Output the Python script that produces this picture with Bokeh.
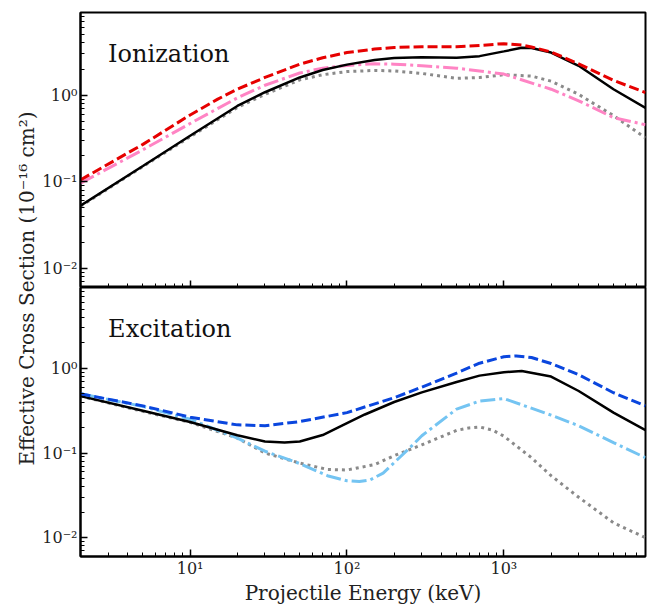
import math
from bokeh.plotting import figure
from bokeh.models import Range1d, FixedTicker, CustomJSTickFormatter, Label, LogAxis
from bokeh.layouts import row, column
from bokeh.core.properties import value
from bokeh.embed import file_html
from bokeh.resources import INLINE

FONT = "DejaVu Serif"

# ---------------- data ----------------
# Ionization panel
ion_red_E = [2, 5, 10, 15, 20, 30, 50, 70, 100, 150, 200, 300, 500, 700, 1000, 1300, 1500, 2000, 3000, 5000, 8000]
ion_red_v = [0.105, 0.27, 0.59, 0.9, 1.17, 1.6, 2.28, 2.7, 3.1, 3.4, 3.55, 3.62, 3.63, 3.75, 3.93, 3.8, 3.6, 3.15, 2.3, 1.48, 1.07]

ion_black_E = [2, 5, 10, 20, 30, 50, 70, 100, 150, 200, 300, 500, 700, 1000, 1300, 1500, 2000, 3000, 5000, 8000]
ion_black_v = [0.053, 0.152, 0.34, 0.75, 1.08, 1.6, 1.95, 2.25, 2.55, 2.68, 2.74, 2.7, 2.82, 3.2, 3.52, 3.5, 3.1, 2.18, 1.17, 0.71]

ion_pink_E = [2, 5, 10, 20, 30, 50, 70, 100, 150, 200, 300, 500, 700, 1000, 2000, 3000, 5000, 8000]
ion_pink_v = [0.096, 0.234, 0.47, 0.93, 1.3, 1.8, 2.05, 2.2, 2.3, 2.28, 2.18, 2.05, 1.9, 1.75, 1.17, 0.86, 0.55, 0.455]

ion_grey_E = [2, 5, 10, 20, 30, 50, 70, 100, 150, 200, 300, 500, 700, 1000, 1500, 2000, 3000, 5000, 8000]
ion_grey_v = [0.052, 0.15, 0.33, 0.72, 1.02, 1.5, 1.72, 1.87, 1.93, 1.9, 1.78, 1.56, 1.6, 1.72, 1.66, 1.45, 1.02, 0.58, 0.32]

# Excitation panel
exc_blue_E = [2, 5, 10, 20, 30, 50, 100, 200, 300, 500, 700, 1000, 1200, 1500, 2000, 3000, 5000, 8000]
exc_blue_v = [0.50, 0.36, 0.265, 0.215, 0.21, 0.235, 0.30, 0.45, 0.60, 0.88, 1.15, 1.37, 1.40, 1.34, 1.14, 0.84, 0.515, 0.36]

exc_black_E = [2, 5, 10, 20, 30, 40, 50, 70, 100, 130, 200, 300, 500, 700, 1000, 1300, 2000, 3000, 5000, 8000]
exc_black_v = [0.47, 0.315, 0.232, 0.162, 0.137, 0.133, 0.137, 0.163, 0.225, 0.285, 0.40, 0.52, 0.69, 0.82, 0.90, 0.93, 0.80, 0.54, 0.30, 0.186]

exc_lblue_E = [2, 5, 10, 20, 30, 50, 75, 100, 120, 140, 170, 200, 250, 300, 500, 700, 1000, 2000, 3000, 5000, 8000]
exc_lblue_v = [0.50, 0.355, 0.25, 0.15, 0.105, 0.075, 0.054, 0.047, 0.046, 0.048, 0.058, 0.077, 0.114, 0.16, 0.33, 0.41, 0.44, 0.28, 0.21, 0.133, 0.088]

exc_grey_E = [2, 5, 10, 20, 30, 50, 75, 100, 150, 200, 300, 500, 600, 700, 850, 1000, 1500, 2000, 3000, 5000, 8000]
exc_grey_v = [0.47, 0.31, 0.23, 0.15, 0.10, 0.076, 0.064, 0.063, 0.073, 0.093, 0.125, 0.185, 0.198, 0.203, 0.186, 0.158, 0.088, 0.054, 0.030, 0.015, 0.010]

x_major = [10, 100, 1000]
y_major = [0.01, 0.1, 1]
x_lim = (2, 8000)
y_lim = (0.006, 9)

Y_LABEL = "Effective Cross Section (10\u207b\u00b9\u2076 cm\u00b2)"
X_LABEL = "Projectile Energy (keV)"

# ---------------- helpers ----------------
def minor_list(lo_exp, hi_exp):
    out = []
    for e in range(lo_exp, hi_exp + 1):
        for m in range(2, 10):
            out.append(m * 10.0 ** e)
    return out

sup_code = """
const sup = {'-':'\u207b','0':'\u2070','1':'\u00b9','2':'\u00b2','3':'\u00b3','4':'\u2074',
             '5':'\u2075','6':'\u2076','7':'\u2077','8':'\u2078','9':'\u2079'};
const e = Math.round(Math.log10(tick));
return '10' + String(e).split('').map(c => sup[c]).join('');
"""

def style_axis(ax):
    ax.axis_line_width = 2
    ax.major_tick_in = 7
    ax.major_tick_out = 0
    ax.minor_tick_in = 4
    ax.minor_tick_out = 0
    ax.major_tick_line_width = 1.5
    ax.minor_tick_line_width = 1
    ax.major_label_text_font = FONT
    ax.major_label_text_font_size = "16px"
    ax.major_label_text_color = "#222222"
    ax.axis_label_text_font = FONT
    ax.axis_label_text_font_style = "normal"
    ax.axis_label_text_font_size = "20px"
    ax.axis_label_text_color = "#222222"
    ax.formatter = CustomJSTickFormatter(code=sup_code)

def make_panel(height, top_border, bottom_border, show_x):
    p = figure(width=612, height=height, x_axis_type="log", y_axis_type="log",
               x_range=Range1d(*x_lim), y_range=Range1d(*y_lim),
               x_axis_location="below" if show_x else None,
               toolbar_location=None, output_backend="svg", title=None,
               min_border_left=42, min_border_right=5,
               min_border_top=top_border, min_border_bottom=bottom_border)
    p.grid.visible = False
    p.outline_line_color = "black"
    p.outline_line_width = 2
    p.outline_line_alpha = 1
    p.background_fill_color = "white"
    p.border_fill_color = "white"
    yax = p.yaxis[0]
    style_axis(yax)
    yax.ticker = FixedTicker(ticks=y_major, minor_ticks=minor_list(-3, 0))
    yax.major_label_standoff = 3
    if show_x:
        xax = p.xaxis[0]
        style_axis(xax)
        xax.ticker = FixedTicker(ticks=x_major, minor_ticks=minor_list(0, 3))
        xax.major_label_standoff = 2
        xax.axis_label_standoff = 0
        xax.axis_label = X_LABEL
    else:
        # tick marks only (no labels): minor ticks and decade ticks
        minors = LogAxis(ticker=FixedTicker(ticks=[], minor_ticks=minor_list(0, 3)))
        style_axis(minors)
        minors.major_label_text_font_size = "0px"
        minors.major_label_standoff = 0
        p.add_layout(minors, "below")
        majors = LogAxis(ticker=FixedTicker(ticks=[], minor_ticks=x_major))
        style_axis(majors)
        majors.minor_tick_in = 7
        majors.minor_tick_line_width = 1.5
        majors.major_label_text_font_size = "0px"
        majors.major_label_standoff = 0
        p.add_layout(majors, "below")
    return p

# ---------------- top panel ----------------
top = make_panel(287, 12, 0, False)
top.line(ion_grey_E, ion_grey_v, line_color="#8a8a8a", line_width=3, line_dash="3 4")
top.line(ion_pink_E, ion_pink_v, line_color="#ff84c4", line_width=3, line_dash="15 4 3 4")
top.line(ion_black_E, ion_black_v, line_color="black", line_width=2.5)
top.line(ion_red_E, ion_red_v, line_color="#e60000", line_width=3, line_dash="10 4")
top.add_layout(Label(x=3.0, y=2.95, text="Ionization", text_font=FONT,
                     text_font_size="24px", text_baseline="alphabetic", text_color="#111111"))

# ---------------- bottom panel ----------------
bot = make_panel(320, 0, 44, True)
bot.line(exc_grey_E, exc_grey_v, line_color="#8a8a8a", line_width=3, line_dash="3 4")
bot.line(exc_lblue_E, exc_lblue_v, line_color="#74c4f2", line_width=3, line_dash="15 4 3 4")
bot.line(exc_black_E, exc_black_v, line_color="black", line_width=2.5)
bot.line(exc_blue_E, exc_blue_v, line_color="#0a46de", line_width=3, line_dash="10 4")
bot.add_layout(Label(x=3.0, y=2.95, text="Excitation", text_font=FONT,
                     text_font_size="24px", text_baseline="alphabetic", text_color="#111111"))

# ---------------- shared y label ----------------
LAB_H = 607
lab = figure(width=38, height=LAB_H, x_range=Range1d(0, 38), y_range=Range1d(0, LAB_H),
             x_axis_location=None, y_axis_location=None, title=None,
             toolbar_location=None, output_backend="svg",
             min_border=0, min_border_left=0, min_border_right=0,
             min_border_top=0, min_border_bottom=0)
lab.grid.visible = False
lab.outline_line_color = None
lab.text(x=[26], y=[LAB_H - 288], text=[Y_LABEL],
         angle=math.pi / 2, text_align="center", text_baseline="middle",
         text_font=value(FONT), text_font_size="20px", text_color="#222222")

layout = row(lab, column(top, bot))

open("out.html", "w").write(file_html(layout, INLINE))
